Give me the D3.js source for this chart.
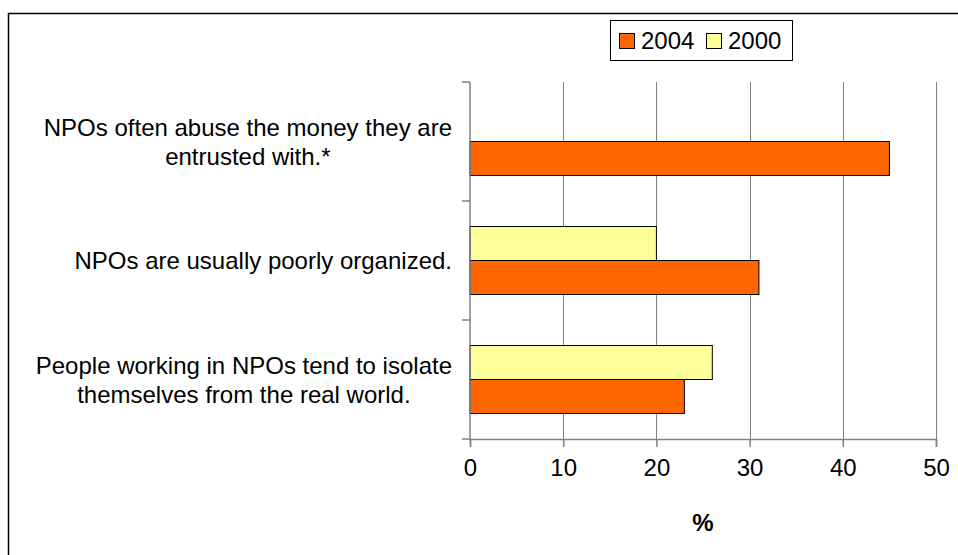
<!DOCTYPE html>
<html>
<head>
<meta charset="utf-8">
<script src="https://cdn.jsdelivr.net/npm/d3@7"></script>
<style>
  html, body { margin: 0; padding: 0; background: #fff; }
  svg { display: block; }
  text { font-family: "Liberation Sans", Arial, sans-serif; }
</style>
</head>
<body>
<svg id="chart" width="958" height="555"></svg>
<script>
// ---- data ----
const categories = [
  ["NPOs often abuse the money they are", "entrusted with.*"],
  ["NPOs are usually poorly organized."],
  ["People working in NPOs tend to isolate", "themselves from the real world."]
];
const seriesNames = ["2000", "2004"];          // drawing order within a group (top to bottom)
const legendOrder = ["2004", "2000"];
const values2004 = [45, 31, 23];
const values2000 = [null, 20, 26];
const xTicks = [0, 10, 20, 30, 40, 50];
const xTitle = "%";
const colors = { "2004": "#FF6600", "2000": "#FFFF99" };

// ---- layout ----
const svg = d3.select("#chart");
const plot = { left: 470, right: 936, top: 82, bottom: 439 };
const fontSize = 24;

svg.append("rect")
  .attr("x", 8.5).attr("y", 13.5).attr("width", 1000).attr("height", 1000)
  .attr("fill", "#fff").attr("stroke", "#000").attr("stroke-width", 1.5);

const x = d3.scaleLinear().domain([0, 50]).range([plot.left, plot.right]);
const y = d3.scaleBand().domain(d3.range(categories.length)).range([plot.top, plot.bottom]).padding(0);
const ySub = d3.scaleBand().domain(seriesNames)
  .range([y.bandwidth() * 0.2143, y.bandwidth() * 0.7857]).padding(0);

// gridlines
svg.append("g").selectAll("line").data(xTicks.filter(d => d > 0)).join("line")
  .attr("x1", d => Math.round(x(d)) + 0.5).attr("x2", d => Math.round(x(d)) + 0.5)
  .attr("y1", plot.top).attr("y2", plot.bottom)
  .attr("stroke", "#808080").attr("stroke-width", 1);

// bars
const rows = categories.map((c, i) => ({ i, "2004": values2004[i], "2000": values2000[i] }));
const g = svg.append("g");
rows.forEach(r => {
  seriesNames.forEach(s => {
    if (r[s] == null) return;
    g.append("rect")
      .attr("x", x(0))
      .attr("y", y(r.i) + ySub(s))
      .attr("width", x(r[s]) - x(0))
      .attr("height", ySub.bandwidth())
      .attr("fill", colors[s])
      .attr("stroke", "#000").attr("stroke-width", 1);
  });
});

// axes
const axisColor = "#808080";
const xAxis = svg.append("g").attr("transform", `translate(0,${plot.bottom})`)
  .call(d3.axisBottom(x).tickValues(xTicks).tickSize(8).tickPadding(12).tickFormat(d3.format("d")));
xAxis.select(".domain").attr("stroke", axisColor).attr("stroke-width", 1.5);
xAxis.selectAll(".tick line").attr("stroke", axisColor).attr("stroke-width", 1.5);
xAxis.selectAll(".tick text").attr("font-size", fontSize).attr("fill", "#000")
  .attr("font-family", "Liberation Sans, Arial, sans-serif");

// y axis line with ticks at band boundaries
const yBounds = d3.range(categories.length + 1).map(i => plot.top + i * y.step());
svg.append("line").attr("x1", plot.left).attr("x2", plot.left)
  .attr("y1", plot.top).attr("y2", plot.bottom)
  .attr("stroke", axisColor).attr("stroke-width", 1.5);
svg.append("g").selectAll("line").data(yBounds).join("line")
  .attr("x1", plot.left - 8).attr("x2", plot.left)
  .attr("y1", d => d).attr("y2", d => d)
  .attr("stroke", axisColor).attr("stroke-width", 1.5);

// category labels
const labelRight = plot.left - 18;
const lineH = 29;
categories.forEach((lines, i) => {
  const t = svg.append("text").attr("font-size", fontSize).attr("fill", "#000").attr("text-anchor", "middle");
  const cy = y(i) + y.bandwidth() / 2;
  const firstBase = cy + 0.36 * fontSize - (lines.length - 1) * lineH / 2;
  const spans = lines.map((l, k) => t.append("tspan").attr("y", firstBase + k * lineH).text(l));
  const maxW = d3.max(spans, s => s.node().getComputedTextLength());
  spans.forEach(s => s.attr("x", labelRight - maxW / 2));
});

// x title
svg.append("text").attr("x", (plot.left + plot.right) / 2).attr("y", 531)
  .attr("text-anchor", "middle").attr("font-size", fontSize).attr("font-weight", "bold").text(xTitle);

// legend
const lg = svg.append("g");
lg.append("rect").attr("x", 610.5).attr("y", 20.5).attr("width", 182).attr("height", 40)
  .attr("fill", "#fff").attr("stroke", "#000").attr("stroke-width", 1);
const itemX = [619, 706];
legendOrder.forEach((s, k) => {
  lg.append("rect").attr("x", itemX[k] + 0.5).attr("y", 33.5).attr("width", 15).attr("height", 15)
    .attr("fill", colors[s]).attr("stroke", "#000").attr("stroke-width", 1);
  lg.append("text").attr("x", itemX[k] + 22).attr("y", 49).attr("font-size", fontSize).text(s);
});
</script>
</body>
</html>
